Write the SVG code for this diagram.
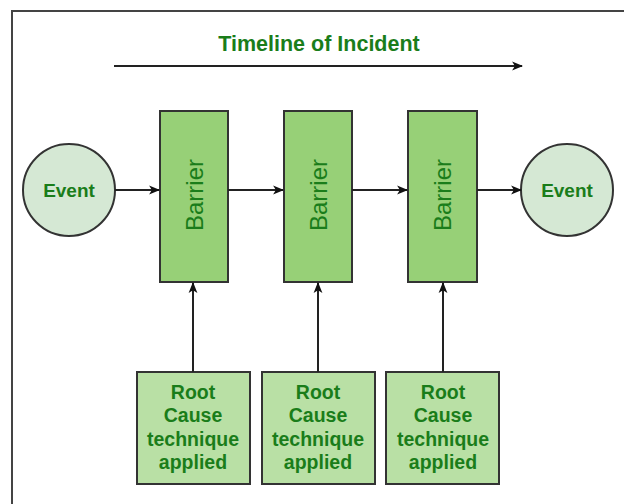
<svg xmlns="http://www.w3.org/2000/svg" width="624" height="504" viewBox="0 0 624 504">
<style>
.t{font-family:"Liberation Sans",Arial,sans-serif;font-weight:bold;fill:#1a7d1a;text-anchor:middle;}
.b{font-family:"Liberation Sans",Arial,sans-serif;fill:#1a7d1a;text-anchor:middle;}
.ev{fill:#d5e8d4;stroke:#333;stroke-width:2;}
.bar{fill:#97d077;stroke:#333;stroke-width:2;}
.rc{fill:#b9e0a5;stroke:#333;stroke-width:2;}
.c{stroke:#222;stroke-width:2;fill:none;marker-end:url(#ah);}
</style>
<defs>
<marker id="ah" viewBox="0 0 10 10" refX="9" refY="5" markerWidth="11" markerHeight="11" markerUnits="userSpaceOnUse" orient="auto">
<path d="M0,1 L10,5 L0,9 L2.5,5 Z" fill="#111"/>
</marker>
</defs>
<rect x="0" y="0" width="624" height="504" fill="#fff"/>
<rect x="12" y="11" width="640" height="520" fill="none" stroke="#444" stroke-width="2"/>
<g id="title"><text class="t" x="319" y="51" font-size="21.5">Timeline of Incident</text></g>
<g id="event1"><circle class="ev" cx="69" cy="190" r="46"/><text class="t" x="69" y="197" font-size="19">Event</text></g>
<g id="barrier1"><rect class="bar" x="160" y="111" width="68" height="171"/><text class="b" font-size="24" transform="translate(203,195) rotate(-90)">Barrier</text></g>
<g id="barrier2"><rect class="bar" x="284" y="111" width="68" height="171"/><text class="b" font-size="24" transform="translate(327,195) rotate(-90)">Barrier</text></g>
<g id="barrier3"><rect class="bar" x="408" y="111" width="69" height="171"/><text class="b" font-size="24" transform="translate(451,195) rotate(-90)">Barrier</text></g>
<g id="event2"><circle class="ev" cx="567" cy="190" r="46"/><text class="t" x="567" y="197" font-size="19">Event</text></g>
<g id="rc1"><rect class="rc" x="137" y="372" width="113" height="112"/>
<text class="t" font-size="19.5"><tspan x="193" y="399">Root</tspan><tspan x="193" y="422">Cause</tspan><tspan x="193" y="446">technique</tspan><tspan x="193" y="469">applied</tspan></text></g>
<g id="rc2"><rect class="rc" x="262" y="372" width="113" height="112"/>
<text class="t" font-size="19.5"><tspan x="318" y="399">Root</tspan><tspan x="318" y="422">Cause</tspan><tspan x="318" y="446">technique</tspan><tspan x="318" y="469">applied</tspan></text></g>
<g id="rc3"><rect class="rc" x="386" y="372" width="113" height="112"/>
<text class="t" font-size="19.5"><tspan x="443" y="399">Root</tspan><tspan x="443" y="422">Cause</tspan><tspan x="443" y="446">technique</tspan><tspan x="443" y="469">applied</tspan></text></g>
<g id="connectors">
<path class="c" d="M114,66 H522"/>
<path class="c" d="M115,190 H159"/>
<path class="c" d="M228,190 H283"/>
<path class="c" d="M352,190 H407"/>
<path class="c" d="M477,190 H521"/>
<path class="c" d="M193,372 V283"/>
<path class="c" d="M318,372 V283"/>
<path class="c" d="M443,372 V283"/>
</g>
</svg>
